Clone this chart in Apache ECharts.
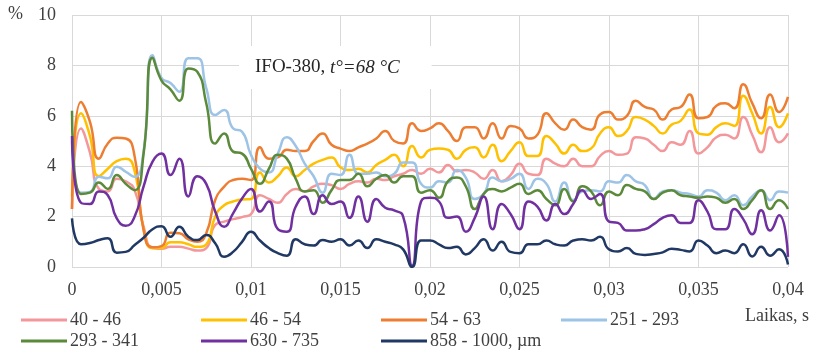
<!DOCTYPE html>
<html>
<head>
<meta charset="utf-8">
<script src="https://cdn.jsdelivr.net/npm/echarts@6/dist/echarts.min.js"></script>
<style>html,body{margin:0;padding:0;background:#fff}#c{width:816px;height:353px}</style>
</head>
<body>
<div id="c"></div>
<script>
// time step 0.0005 s, 81 samples from 0 to 0.04 s
const timeStep = 0.0005;
const times = Array.from({length: 81}, (_, i) => +(i * timeStep).toFixed(4));
const xTicks = ['0', '0,005', '0,01', '0,015', '0,02', '0,025', '0,03', '0,035', '0,04'];
const yTicks = [0, 2, 4, 6, 8, 10];
const seriesNames = ['40 - 46', '46 - 54', '54 - 63', '251 - 293', '293 - 341', '630 - 735', '858 - 1000, µm'];

const s40_46 = [2.3,5.5,4.55,3.1,3.0,3.5,3.4,3.05,1.6,0.75,0.72,0.8,0.8,0.73,0.65,0.75,1.67,1.8,1.9,1.98,
  2.1,2.85,2.7,2.55,2.9,3.1,3.0,3.2,3.3,3.25,3.1,3.3,3.4,3.35,3.5,3.45,3.6,3.7,3.85,3.7,
  3.9,3.75,4.05,3.8,3.85,3.75,3.5,3.85,3.4,3.65,4.1,3.7,3.65,4.3,4.1,4.0,4.3,4.0,4.0,4.4,
  4.6,4.45,4.5,5.15,5.1,4.85,4.6,4.95,4.85,5.4,4.5,4.75,5.15,5.25,5.1,5.95,5.25,4.55,5.55,4.95,5.3];
const s46_54 = [2.8,6.1,5.2,3.6,3.9,4.2,4.3,3.8,1.5,0.75,0.75,0.98,0.98,0.9,0.8,0.9,2.0,2.45,2.6,2.68,
  2.7,3.75,3.35,3.6,3.95,3.6,3.85,4.1,4.25,4.35,3.95,3.85,3.9,3.75,4.05,4.25,4.45,4.0,4.8,4.35,
  4.65,4.7,4.65,4.3,4.65,4.75,4.35,4.85,4.2,4.6,4.95,4.4,4.4,5.2,4.9,4.5,4.85,4.6,4.7,5.3,
  5.55,5.2,5.4,5.95,5.85,5.6,5.3,5.65,5.8,6.25,5.3,5.25,5.55,5.7,5.6,6.8,6.1,5.3,6.35,5.55,6.1];
const s54_63 = [2.3,6.55,5.77,4.3,4.9,5.13,5.1,4.38,1.47,0.78,0.83,1.36,1.34,1.1,1.0,1.34,2.66,3.19,3.45,3.5,
  3.45,4.75,4.3,4.35,4.65,4.6,4.6,5.0,5.3,4.85,4.7,4.6,4.75,4.9,5.1,5.4,5.0,4.9,5.7,5.4,
  5.5,5.7,5.4,5.0,5.55,5.55,5.1,5.7,5.1,5.6,5.5,5.1,5.25,6.1,5.7,5.45,5.85,5.55,5.45,6.05,
  6.15,5.85,6.0,6.6,6.35,6.25,5.85,6.25,6.35,6.85,5.9,5.95,6.4,6.5,6.3,7.25,6.5,5.9,6.85,6.15,6.75];
const s251_293 = [5.0,2.95,2.98,3.58,3.52,3.98,3.78,3.58,4.6,8.4,7.5,7.3,6.95,8.28,8.28,7.1,6.03,6.23,5.5,5.37,
  4.45,3.9,3.75,4.5,5.15,4.8,4.1,3.6,2.95,3.7,3.65,4.45,3.7,3.7,3.75,3.6,3.7,4.15,4.15,3.3,
  3.15,3.4,3.35,3.85,3.55,2.7,2.9,3.55,3.4,3.5,3.7,3.1,3.5,3.3,2.6,3.35,2.65,3.0,3.05,3.0,
  3.4,3.35,3.65,3.4,3.25,2.7,3.0,3.05,2.95,2.9,2.8,3.05,2.95,2.65,2.85,2.45,2.8,3.05,2.65,3.0,2.95];
const s293_341 = [6.2,2.9,2.95,3.35,3.1,3.65,3.3,3.05,4.5,8.3,7.4,7.05,6.6,7.88,7.75,6.5,4.9,5.3,4.58,4.5,
  3.9,3.3,3.9,4.45,4.3,3.5,3.0,3.05,2.55,3.05,3.45,3.45,3.7,3.2,3.5,3.65,3.35,3.6,3.6,2.95,
  3.05,2.75,3.4,3.55,3.2,2.3,2.9,3.1,3.0,3.15,3.3,2.9,3.05,2.7,2.45,3.1,2.6,3.2,3.0,2.45,
  3.0,2.85,3.25,3.1,3.0,2.7,2.95,3.05,2.85,2.8,2.75,2.8,2.75,2.55,2.7,2.3,2.65,3.05,2.3,2.65,2.3];
const s630_735 = [5.2,2.55,2.5,3.0,2.85,1.93,1.64,2.0,3.2,4.18,4.5,3.65,4.3,2.8,3.6,3.3,2.2,1.6,2.13,2.72,
  3.1,2.2,2.6,1.5,1.4,2.4,2.8,2.1,2.85,2.5,2.6,1.95,2.8,1.8,2.7,2.35,2.25,2.0,0.05,2.6,
  2.75,2.6,1.95,2.0,1.4,1.95,2.8,1.5,2.5,2.1,1.5,2.6,2.4,1.85,2.5,2.1,2.5,3.05,2.7,2.9,
  1.8,1.75,1.45,1.45,1.5,1.7,1.95,2.05,1.75,1.75,2.65,2.2,1.5,1.5,2.3,1.9,1.3,2.25,1.45,2.05,0.4];
const s858_1000 = [1.93,0.9,0.95,1.07,1.14,0.57,0.6,0.87,1.16,1.5,1.62,1.2,1.6,1.2,1.07,1.27,0.94,0.41,0.6,1.0,
  1.4,1.05,0.75,0.55,0.45,1.1,0.9,0.85,1.07,1.0,1.1,0.85,1.05,0.75,1.1,1.0,0.9,0.7,0.0,1.05,
  1.05,0.9,0.75,0.8,0.5,0.75,1.1,0.65,1.0,0.6,0.55,0.9,0.9,1.05,0.9,0.85,1.05,1.1,1.05,1.2,
  0.7,0.62,0.75,0.52,0.48,0.52,0.58,0.72,0.68,0.62,1.05,0.85,0.55,0.65,0.55,0.9,0.42,0.8,0.45,0.7,0.1];

const allValues = [s40_46, s46_54, s54_63, s251_293, s293_341, s630_735, s858_1000];
const colors = ['#F4979B', '#FFC000', '#ED7D31', '#9DC3E6', '#5A8A3A', '#7030A0', '#203864'];

const serif = '"Liberation Serif", "Times New Roman", serif';
const chart = echarts.init(document.getElementById('c'), null, {renderer: 'canvas'});
chart.setOption({
  animation: false,
  backgroundColor: '#fff',
  grid: {left: 72, right: 28, top: 15, bottom: 86, containLabel: false},
  title: {
    left: 239, top: 45,
    text: '{n|IFO-380, }{i|t°=68 °C}',
    backgroundColor: '#fff',
    padding: [12, 32, 12, 16],
    textStyle: {
      fontWeight: 'normal',
      rich: {
        n: {fontFamily: serif, fontSize: 19, fontWeight: 'normal', color: '#262626', lineHeight: 21},
        i: {fontFamily: serif, fontSize: 19, fontWeight: 'normal', fontStyle: 'italic', color: '#262626', lineHeight: 21}
      }
    }
  },
  graphic: [{
    type: 'text', left: 8, top: 5,
    style: {text: '%', font: '18px ' + serif, fill: '#404040'}
  }],
  legend: {
    left: 21, top: 310, width: 740, padding: 0,
    itemWidth: 46, itemHeight: 3, itemGap: 1,
    icon: 'rect',
    data: seriesNames,
    textStyle: {fontFamily: serif, fontSize: 18, color: '#404040', width: 130, lineHeight: 20, padding: [0, 0, 0, -2]}
  },
  xAxis: {
    type: 'value', min: 0, max: 0.04, interval: 0.005,
    name: 'Laikas, s', nameLocation: 'end', nameGap: -43,
    nameTextStyle: {fontFamily: serif, fontSize: 18, color: '#404040', align: 'left', verticalAlign: 'top', padding: [40, 0, 0, 0]},
    axisLine: {show: false}, axisTick: {show: false},
    axisLabel: {
      margin: 14, fontFamily: serif, fontSize: 18, color: '#404040',
      formatter: v => xTicks[Math.round(v / 0.005)]
    },
    splitLine: {show: true, lineStyle: {color: '#d9d9d9', width: 1}}
  },
  yAxis: {
    type: 'value', min: yTicks[0], max: yTicks[yTicks.length - 1], interval: 2,
    axisLine: {show: false}, axisTick: {show: false},
    axisLabel: {margin: 16, fontFamily: serif, fontSize: 18, color: '#404040'},
    splitLine: {show: true, lineStyle: {color: '#d9d9d9', width: 1}}
  },
  series: seriesNames.map((name, k) => ({
    name: name,
    type: 'line',
    smooth: 0.55,
    showSymbol: false,
    symbol: 'none',
    color: colors[k],
    lineStyle: {width: 2.5, color: colors[k]},
    data: times.map((t, i) => [t, allValues[k][i]])
  }))
});
</script>
</body>
</html>
